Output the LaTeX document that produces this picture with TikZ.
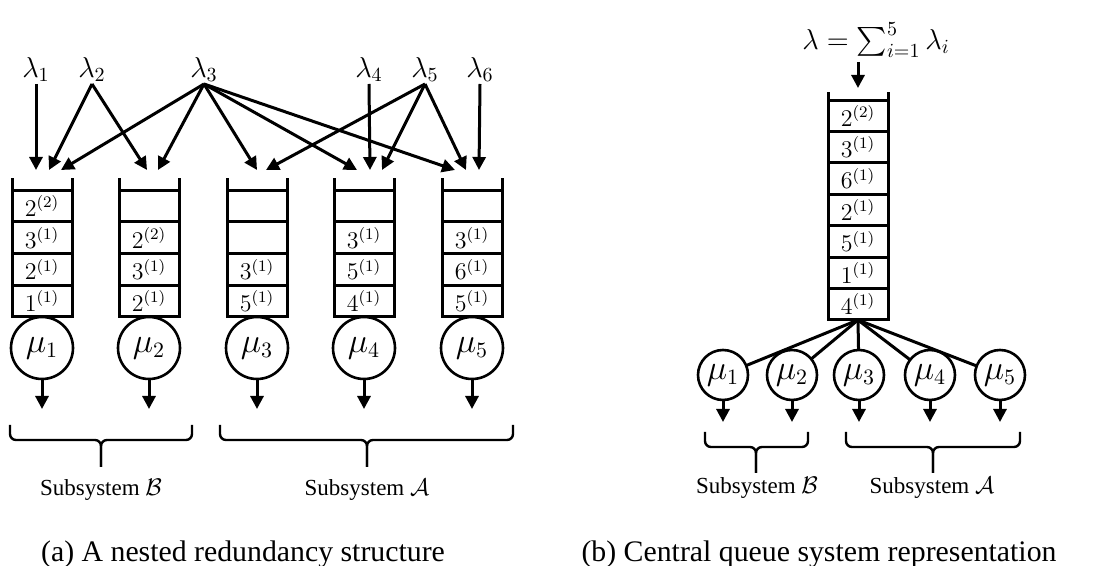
\documentclass[tikz,border=0pt]{standalone}
\usepackage{fontspec}
\setmainfont{Liberation Serif}
\usepackage{amsmath}
\usepackage{tikz}
\usetikzlibrary{arrows.meta,positioning,calc}

\begin{document}
\begin{tikzpicture}[
    x=0.5pt, y=-0.5pt,
    cell/.style={rectangle, draw, line width=1.5pt, minimum width=30pt, minimum height=15.75pt, inner sep=0pt, outer sep=0pt, font=\fontsize{12}{14}\selectfont},
    server/.style={circle, draw, line width=1.3pt, minimum size=31pt, inner sep=0pt, outer sep=0pt, font=\fontsize{16}{18}\selectfont},
    rserver/.style={server, minimum size=25pt},
    rate/.style={anchor=south, inner sep=1pt, font=\fontsize{14.5}{16}\selectfont},
    arrow/.style={->, line width=1.5pt, >={Triangle[length=6.5pt,width=6.5pt]}},
    wall/.style={line width=1.5pt},
    brk/.style={line width=1.2pt, rounded corners=3pt},
    sublabel/.style={font=\fontsize{11.5}{14}\selectfont},
    caption/.style={font=\fontsize{14.9}{18}\selectfont},
]
    \useasboundingbox (0,0) rectangle (1104,566);

    % (a) arrival rates
    \node[rate] (l1) at (36,84) {$\lambda_1$};
    \node[rate] (l2) at (92,84) {$\lambda_2$};
    \node[rate] (l3) at (204,84) {$\lambda_3$};
    \node[rate] (l4) at (369,84) {$\lambda_4$};
    \node[rate] (l5) at (425,84) {$\lambda_5$};
    \node[rate] (l6) at (480,84) {$\lambda_6$};

    % (a) queues
    \foreach \i/\t in {1/2^{(2)},2/3^{(1)},3/2^{(1)},4/1^{(1)}}
        \node[cell] (qa\i) at (42,{174.25+31.75*\i}) {$\t$};
    \foreach \i/\t in {1/{},2/2^{(2)},3/3^{(1)},4/2^{(1)}}
        \node[cell] (qb\i) at (149,{174.25+31.75*\i}) {$\t$};
    \foreach \i/\t in {1/{},2/{},3/3^{(1)},4/5^{(1)}}
        \node[cell] (qc\i) at (257,{174.25+31.75*\i}) {$\t$};
    \foreach \i/\t in {1/{},2/3^{(1)},3/5^{(1)},4/4^{(1)}}
        \node[cell] (qd\i) at (364,{174.25+31.75*\i}) {$\t$};
    \foreach \i/\t in {1/{},2/3^{(1)},3/6^{(1)},4/5^{(1)}}
        \node[cell] (qe\i) at (472,{174.25+31.75*\i}) {$\t$};
    \foreach \q in {qa,qb,qc,qd,qe} {
        \draw[wall] ([yshift=6pt]\q1.north west) -- (\q4.south west);
        \draw[wall] ([yshift=6pt]\q1.north east) -- (\q4.south east);
    }

    % (a) servers
    \node[server, below=0pt of qa4] (s1) {$\mu_1$};
    \node[server, below=0pt of qb4] (s2) {$\mu_2$};
    \node[server, below=0pt of qc4] (s3) {$\mu_3$};
    \node[server, below=0pt of qd4] (s4) {$\mu_4$};
    \node[server, below=0pt of qe4] (s5) {$\mu_5$};

    % (a) arrow ends above the queues
    \coordinate (t11) at (36,170);
    \coordinate (t12) at (49,170);
    \coordinate (t13) at (61,170);
    \coordinate (t22) at (147,170);
    \coordinate (t23) at (158,170);
    \coordinate (t33) at (257,170);
    \coordinate (t35) at (266,170);
    \coordinate (t43) at (357,170);
    \coordinate (t44) at (370,170);
    \coordinate (t45) at (382,170);
    \coordinate (t53) at (455,170);
    \coordinate (t55) at (466,170);
    \coordinate (t56) at (479,170);

    % (a) routing arrows
    \draw[arrow] (l1.south) -- (t11);
    \draw[arrow] (l2.south) -- (t12);
    \draw[arrow] (l2.south) -- (t22);
    \foreach \t in {t13,t23,t33,t43,t53}
        \draw[arrow] (l3.south) -- (\t);
    \draw[arrow] (l4.south) -- (t44);
    \foreach \t in {t35,t45,t55}
        \draw[arrow] (l5.south) -- (\t);
    \draw[arrow] (l6.south) -- (t56);

    % (a) departures
    \foreach \k in {1,...,5} {
        \coordinate (o\k) at ($(s\k.south)+(0,-15pt)$);
        \draw[arrow] (s\k.south) -- (o\k);
    }

    % (a) subsystems
    \draw[brk] (10,425) |- (101,440) -- (101,467);
    \draw[brk] (192,425) |- (101,440) -- (101,467);
    \draw[brk] (220,425) |- (367,440) -- (367,467);
    \draw[brk] (513,425) |- (367,440) -- (367,467);
    \node[sublabel] (subb) at (101,490) {Subsystem $\mathcal{B}$};
    \node[sublabel] (suba) at (367,490) {Subsystem $\mathcal{A}$};
    \node[caption] (capa) at (243,554) {(a) A nested redundancy structure};

    % (b) central queue
    \node[rate, anchor=center, inner sep=0pt, font=\fontsize{14.5}{18}\selectfont] (lam) at (876,40) {$\lambda = \sum_{i=1}^{5}\lambda_i$};
    \foreach \i/\t in {1/2^{(2)},2/3^{(1)},3/6^{(1)},4/2^{(1)},5/5^{(1)},6/1^{(1)},7/4^{(1)}}
        \node[cell, minimum height=15.7pt] (c\i) at (858,{84.29+31.43*\i}) {$\t$};
    \draw[wall] ([yshift=4pt]c1.north west) -- (c7.south west);
    \draw[wall] ([yshift=4pt]c1.north east) -- (c7.south east);
    \coordinate (cin) at (858,88);
    \draw[arrow] ([yshift=-2pt]lam.south -| c1.north) -- (cin);

    % (b) servers
    \node[rserver] (r1) at (723,375) {$\mu_1$};
    \node[rserver] (r2) at (792,375) {$\mu_2$};
    \node[rserver] (r3) at (859,375) {$\mu_3$};
    \node[rserver] (r4) at (930,375) {$\mu_4$};
    \node[rserver] (r5) at (1000,375) {$\mu_5$};
    \foreach \k in {1,...,5} {
        \draw[wall] (c7.south) -- (r\k);
        \coordinate (ro\k) at ($(r\k.south)+(0,-11pt)$);
        \draw[arrow] (r\k.south) -- (ro\k);
    }

    % (b) subsystems
    \draw[brk] (705,432) |- (756,447) -- (756,473);
    \draw[brk] (808,432) |- (756,447) -- (756,473);
    \draw[brk] (846,432) |- (933,447) -- (933,473);
    \draw[brk] (1020,432) |- (933,447) -- (933,473);
    \node[sublabel] (rsubb) at (757,488) {Subsystem $\mathcal{B}$};
    \node[sublabel] (rsuba) at (932,488) {Subsystem $\mathcal{A}$};
    \node[caption] (capb) at (819,554) {(b) Central queue system representation};
\end{tikzpicture}
\end{document}
